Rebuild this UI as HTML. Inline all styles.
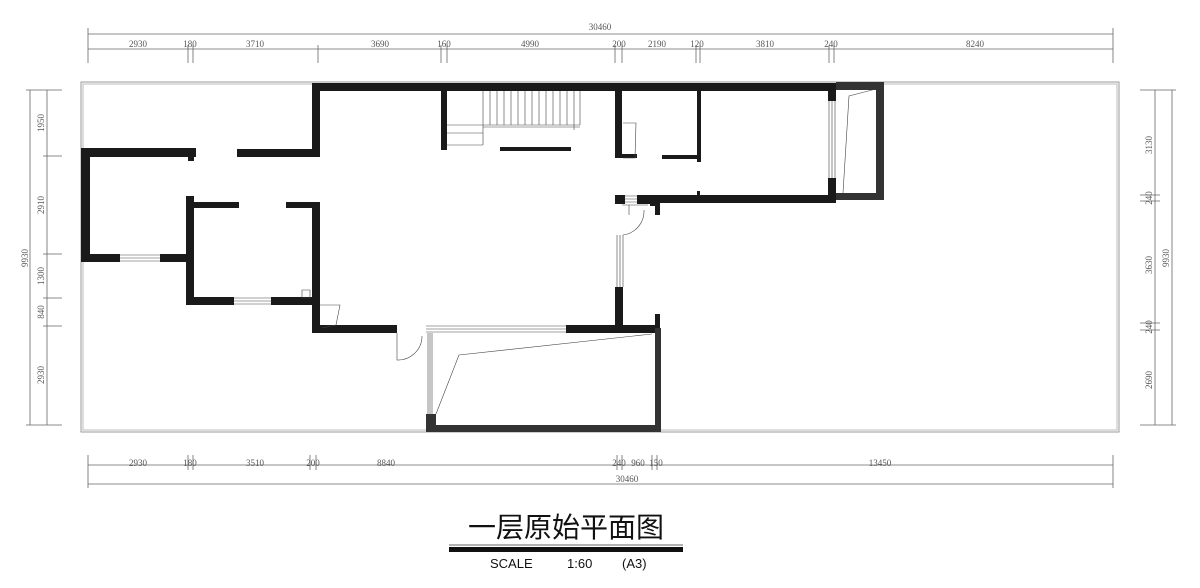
<!DOCTYPE html>
<html><head><meta charset="utf-8"><style>
html,body{margin:0;padding:0;background:#fff;}
svg{display:block;}
.d{font-family:"Liberation Serif",serif;font-size:9px;fill:#555;}
</style></head><body>
<svg width="1200" height="588" viewBox="0 0 1200 588" xmlns="http://www.w3.org/2000/svg">
<g stroke="#666" stroke-width="0.8" fill="none">
<!-- top dims -->
<line x1="88" y1="34" x2="1113" y2="34"/>
<line x1="88" y1="49" x2="1113" y2="49"/>
<path d="M88 28V63M188 45V63M193 45V63M318 45V63M441 45V63M447 45V63M615 45V63M622 45V63M696 45V63M700 45V63M829 45V63M834 45V63M1113 28V63"/>
<!-- bottom dims -->
<line x1="88" y1="465" x2="1113" y2="465"/>
<line x1="88" y1="484" x2="1113" y2="484"/>
<path d="M88 455V488M188 455V470M193 455V470M310 455V470M316 455V470M617 455V470M622 455V470M652 455V470M657 455V470M1113 455V488"/>
<!-- left dims -->
<line x1="30" y1="90" x2="30" y2="425"/>
<line x1="47" y1="90" x2="47" y2="425"/>
<path d="M26 90H62M26 425H62M43 156H62M43 254H62M43 298H62M43 326H62"/>
<!-- right dims -->
<line x1="1155" y1="90" x2="1155" y2="425"/>
<line x1="1172" y1="90" x2="1172" y2="425"/>
<path d="M1140 90H1176M1140 425H1176M1140 195H1160M1140 201H1160M1140 323H1160M1140 330H1160"/>
</g>
<g class="d" text-anchor="middle">
<text x="600" y="30">30460</text>
<text x="138" y="47">2930</text><text x="190" y="47">180</text><text x="255" y="47">3710</text>
<text x="380" y="47">3690</text><text x="444" y="47">160</text><text x="530" y="47">4990</text>
<text x="619" y="47">200</text><text x="657" y="47">2190</text><text x="697" y="47">120</text>
<text x="765" y="47">3810</text><text x="831" y="47">240</text><text x="975" y="47">8240</text>
<text x="138" y="466">2930</text><text x="190" y="466">180</text><text x="255" y="466">3510</text>
<text x="313" y="466">200</text><text x="386" y="466">8840</text><text x="619" y="466">240</text>
<text x="638" y="466">960</text><text x="656" y="466">150</text><text x="880" y="466">13450</text>
<text x="627" y="482">30460</text>
<text transform="translate(44,123) rotate(-90)">1950</text>
<text transform="translate(44,205) rotate(-90)">2910</text>
<text transform="translate(44,276) rotate(-90)">1300</text>
<text transform="translate(44,312) rotate(-90)">840</text>
<text transform="translate(44,375) rotate(-90)">2930</text>
<text transform="translate(28,258) rotate(-90)">9930</text>
<text transform="translate(1152,145) rotate(-90)">3130</text>
<text transform="translate(1152,198) rotate(-90)">240</text>
<text transform="translate(1152,265) rotate(-90)">3630</text>
<text transform="translate(1152,327) rotate(-90)">240</text>
<text transform="translate(1152,380) rotate(-90)">2690</text>
<text transform="translate(1169,258) rotate(-90)">9930</text>
</g>
<!-- property boundary -->
<rect x="81" y="82" width="1038" height="350" fill="none" stroke="#999" stroke-width="1"/>
<rect x="83" y="84" width="1034" height="346" fill="none" stroke="#bbb" stroke-width="1"/>
<!-- black walls -->
<g fill="#1a1a1a">
<rect x="312" y="83" width="524" height="8"/>
<rect x="312" y="83" width="8" height="74"/>
<rect x="237" y="149" width="83" height="8"/>
<rect x="81" y="148" width="115" height="9"/>
<rect x="188" y="148" width="6" height="13"/>
<rect x="81" y="148" width="9" height="114"/>
<rect x="81" y="254" width="39" height="8"/>
<rect x="160" y="254" width="34" height="8"/>
<rect x="186" y="196" width="8" height="109"/>
<rect x="194" y="202" width="45" height="6"/>
<rect x="286" y="202" width="32" height="6"/>
<rect x="312" y="202" width="8" height="131"/>
<rect x="186" y="297" width="48" height="8"/>
<rect x="271" y="297" width="49" height="8"/>
<rect x="312" y="325" width="85" height="8"/>
<rect x="441" y="91" width="6" height="59"/>
<rect x="500" y="147" width="71" height="4"/>
<rect x="615" y="91" width="7" height="67"/>
<rect x="615" y="154" width="22" height="4"/>
<rect x="697" y="91" width="4" height="71"/>
<rect x="662" y="155" width="38" height="4"/>
<rect x="697" y="191" width="3" height="5"/>
<rect x="650" y="195" width="186" height="8"/>
<rect x="828" y="83" width="8" height="18"/>
<rect x="828" y="178" width="8" height="25"/>
<rect x="615" y="195" width="10" height="9"/>
<rect x="637" y="195" width="15" height="9"/>
<rect x="650" y="195" width="6" height="11"/>
<rect x="655" y="203" width="5" height="12"/>
<rect x="615" y="287" width="8" height="41"/>
<rect x="566" y="325" width="94" height="8"/>
<rect x="655" y="314" width="5" height="14"/>
</g>
<g fill="#333">
<rect x="836" y="82" width="48" height="8"/>
<rect x="876" y="82" width="8" height="118"/>
<rect x="836" y="193" width="48" height="7"/>
<rect x="655" y="328" width="6" height="104"/>
<rect x="426" y="425" width="235" height="7"/>
<rect x="426" y="414" width="10" height="18"/>
</g>
<!-- thin lines: windows, stairs, doors -->
<g stroke="#444" stroke-width="0.6" fill="none">
<path d="M120 255H160M120 258H160M120 261H160"/>
<path d="M234 298H271M234 301H271M234 304H271"/>
<path d="M426 326H566M426 329H566M426 332H566"/>
<path d="M428 333V414M430 333V414M432 333V414"/>
<path d="M829 101V178M832 101V178M835 101V178"/>
<path d="M617 235V287M620 235V287M623 235V287"/>
<path d="M625 196H637M625 199H637M625 202H637"/>
<path d="M483 91V125M490 91V125M497 91V125M504 91V125M511 91V125M518 91V125M525 91V125M532 91V125M539 91V125M546 91V125M553 91V125M560 91V125M567 91V125M574 91V130M580 91V125"/>
<path d="M483 125H580M483 127H580M447 125H483V145M447 133H483M447 145H483M483 125V143"/>
<path d="M436 414L459 355L652 334"/>
<path d="M843 193L849 96L876 89"/>
<path d="M623 123H636L635 158H623"/>
<path d="M622 205H648M629 205V215"/>
<path d="M623 235A24 24 0 0 0 644 210"/>
<path d="M397 333V360A24 24 0 0 0 422 336"/>
<path d="M302 290H310V298H302Z"/>
<path d="M320 305H340L336 325L322 328"/>
</g>
<!-- title -->
<text x="566" y="537" text-anchor="middle" font-family="'Liberation Sans','Noto Sans CJK SC',sans-serif" font-size="28" fill="#111">一层原始平面图</text>
<line x1="449" y1="545" x2="683" y2="545" stroke="#333" stroke-width="0.8"/>
<rect x="449" y="547" width="234" height="5" fill="#111"/>
<text x="490" y="568" font-family="'Liberation Sans',sans-serif" font-size="13" fill="#111">SCALE</text>
<text x="567" y="568" font-family="'Liberation Sans',sans-serif" font-size="13" fill="#111">1:60</text>
<text x="622" y="568" font-family="'Liberation Sans',sans-serif" font-size="13" fill="#111">(A3)</text>
</svg>
</body></html>
